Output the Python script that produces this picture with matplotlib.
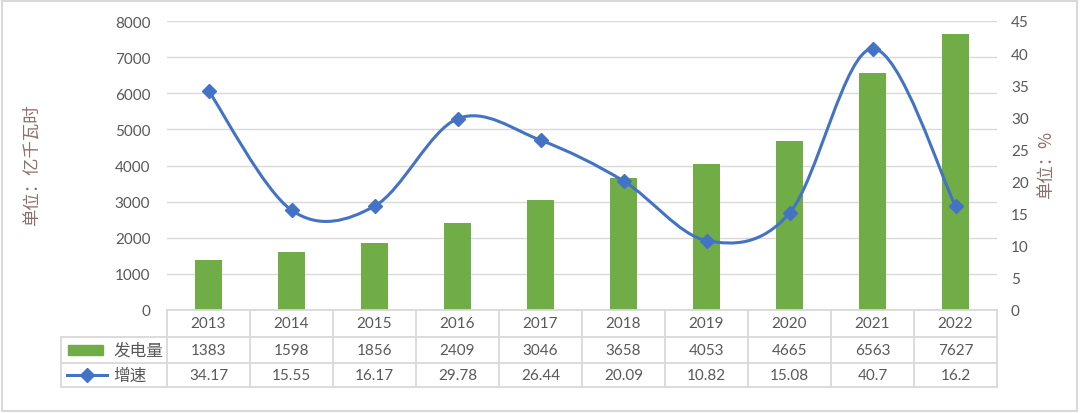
import matplotlib.pyplot as plt
from matplotlib.path import Path
from matplotlib.patches import PathPatch, Rectangle
from matplotlib.lines import Line2D
import numpy as np

plt.rcParams['font.family'] = ['Lato', 'Noto Sans CJK SC', 'DejaVu Sans']

# Datos
anios = ['2013', '2014', '2015', '2016', '2017', '2018', '2019', '2020', '2021', '2022']
generacion = [1383, 1598, 1856, 2409, 3046, 3658, 4053, 4665, 6563, 7627]
crecimiento = [34.17, 15.55, 16.17, 29.78, 26.44, 20.09, 10.82, 15.08, 40.7, 16.2]
etiquetas_crecimiento = ['34.17', '15.55', '16.17', '29.78', '26.44', '20.09', '10.82', '15.08', '40.7', '16.2']

verde = '#70AD47'
azul = '#4472C4'
gris_texto = '#595959'
gris_linea = '#D9D9D9'
marron = '#8C6E6E'

W, H = 1080, 414
fig = plt.figure(figsize=(W / 100, H / 100), dpi=100)

def fx(px):
    return px / W

def fy(py):
    return 1 - py / H

x0, x1, ytop, ybot = 167, 997, 22, 311
ax = fig.add_axes([fx(x0), fy(ybot), fx(x1) - fx(x0), fy(ytop) - fy(ybot)])
ax2 = ax.twinx()

x = np.arange(len(anios))
ax.bar(x, generacion, width=0.32, color=verde, zorder=2)
ax.set_xlim(-0.5, len(anios) - 0.5)
ax.set_ylim(0, 8000)
ax.set_yticks(range(0, 8001, 1000))
ax.grid(axis='y', color=gris_linea, linewidth=1, zorder=0)
ax.set_axisbelow(True)
ax.set_xticks([])
ax.tick_params(axis='y', length=0, pad=12, labelsize=11, labelcolor=gris_texto)

# Curva suavizada (Catmull-Rom, como el suavizado de Excel)
verts = [(x[0], crecimiento[0])]
codes = [Path.MOVETO]
n = len(x)
for i in range(n - 1):
    p0 = np.array([x[max(i - 1, 0)], crecimiento[max(i - 1, 0)]])
    p1 = np.array([x[i], crecimiento[i]])
    p2 = np.array([x[i + 1], crecimiento[i + 1]])
    p3 = np.array([x[min(i + 2, n - 1)], crecimiento[min(i + 2, n - 1)]])
    c1 = p1 + (p2 - p0) / 6
    c2 = p2 - (p3 - p1) / 6
    verts += [tuple(c1), tuple(c2), tuple(p2)]
    codes += [Path.CURVE4] * 3
ax2.add_patch(PathPatch(Path(verts, codes), facecolor='none', edgecolor=azul, linewidth=2.2, zorder=3))
ax2.plot(x, crecimiento, linestyle='none', marker='D', markersize=7, color=azul, zorder=4)
ax2.set_ylim(0, 45)
ax2.set_yticks(range(0, 46, 5))
ax2.tick_params(axis='y', length=0, pad=10, labelsize=11, labelcolor=gris_texto)

for a in (ax, ax2):
    for s in a.spines.values():
        s.set_visible(False)

# Etiquetas de los ejes
fig.text(fx(32), fy(165), '单位：亿千瓦时', rotation=90, ha='center', va='center',
         fontsize=12.5, color=marron, family=['Noto Sans CJK SC'])
fig.text(fx(1046), fy(165), '单位：%', rotation=90, ha='center', va='center',
         fontsize=12.5, color=marron, family=['Noto Sans CJK SC', 'DejaVu Sans'])

# Tabla de datos
filas = [311, 338, 364, 388]
col_w = (x1 - x0) / len(anios)
ley_x = 61
lineas = [
    ((x0, x1), (filas[0], filas[0])),
    ((ley_x, x1), (filas[1], filas[1])),
    ((ley_x, x1), (filas[2], filas[2])),
    ((ley_x, x1), (filas[3], filas[3])),
    ((ley_x, ley_x), (filas[1], filas[3])),
]
for i in range(len(anios) + 1):
    lineas.append(((x0 + i * col_w, x0 + i * col_w), (filas[0], filas[3])))
for xs, ys in lineas:
    fig.add_artist(Line2D([fx(v) for v in xs], [fy(v) for v in ys], color=gris_linea, linewidth=1.3))

for i in range(len(anios)):
    cx = fx(x0 + (i + 0.5) * col_w)
    for r, txt in enumerate([anios[i], str(generacion[i]), etiquetas_crecimiento[i]]):
        cy = fy((filas[r] + filas[r + 1]) / 2)
        fig.text(cx, cy, txt, ha='center', va='center', fontsize=11, color=gris_texto)

# Leyenda en la tabla
cy1 = (filas[1] + filas[2]) / 2
cy2 = (filas[2] + filas[3]) / 2
fig.add_artist(Rectangle((fx(68), fy(cy1 + 5)), fx(103) - fx(68), fy(cy1 - 5) - fy(cy1 + 5), color=verde))
fig.text(fx(113), fy(cy1), '发电量', ha='left', va='center', fontsize=12, color=gris_texto,
         family=['Noto Sans CJK SC'])
fig.add_artist(Line2D([fx(67), fx(107)], [fy(cy2), fy(cy2)], color=azul, linewidth=2.2,
                      marker='D', markevery=[], markersize=7))
fig.add_artist(Line2D([fx(87)], [fy(cy2)], color=azul, marker='D', markersize=7, linestyle='none'))
fig.text(fx(113), fy(cy2), '增速', ha='left', va='center', fontsize=12, color=gris_texto,
         family=['Noto Sans CJK SC'])

# Borde de la figura
fig.add_artist(Rectangle((fx(1.5), fy(412)), fx(1077) - fx(1.5), fy(1.5) - fy(412),
                         fill=False, edgecolor=gris_linea, linewidth=1.5))

fig.savefig('out.png', dpi=100)
